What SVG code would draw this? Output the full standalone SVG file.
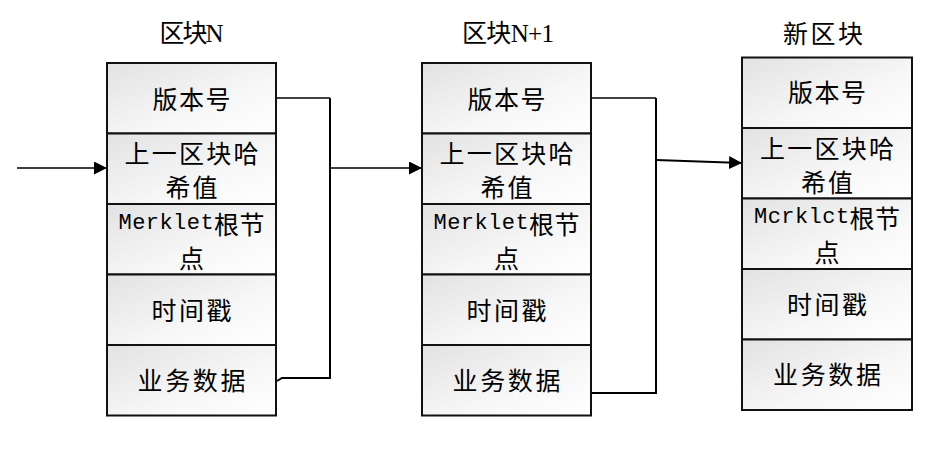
<svg xmlns="http://www.w3.org/2000/svg" width="930" height="457" viewBox="0 0 930 457">
  <defs>
    <linearGradient id="cellFill" x1="0" y1="0" x2="1" y2="1">
      <stop offset="0" stop-color="#e2e2e2"/>
      <stop offset="0.6" stop-color="#f7f7f7"/>
      <stop offset="1" stop-color="#ffffff"/>
    </linearGradient>
    <marker id="arrow" markerUnits="userSpaceOnUse" markerWidth="13" markerHeight="13" refX="13" refY="6.5" orient="auto">
      <path d="M0,0 L13,6.5 L0,13 z" fill="#000"/>
    </marker>
  </defs>
  <style>
    .cell { fill: url(#cellFill); stroke: #111; stroke-width: 2; }
    .lbl { font-family: "Noto Sans CJK SC", "Liberation Serif", sans-serif; font-size: 25px; fill: #000; text-anchor: middle; dominant-baseline: central; }
    .title { font-family: "Liberation Serif", "Noto Sans CJK SC", serif; font-size: 25px; fill: #000; text-anchor: middle; dominant-baseline: central; }
    .mono { font-family: "Liberation Mono", monospace; font-size: 22px; }
    .conn { fill: none; stroke: #000; stroke-width: 2; }
    .thin { fill: none; stroke: #000; stroke-width: 1.5; }
  </style>
  <rect width="930" height="457" fill="#fff"/>

  <g id="connectors">
    <path class="thin" d="M17,168 L107,168" marker-end="url(#arrow)"/>
    <path class="thin" d="M276,98 L330,98"/>
    <path class="conn" d="M330,98 L330,378 L282,378 L277,381"/>
    <path class="thin" d="M330,168 L422,168" marker-end="url(#arrow)"/>
    <path class="thin" d="M591,98 L656,98"/>
    <path class="conn" d="M656,98 L656,393 L591,393"/>
    <path class="conn" d="M656,160 L742,163" marker-end="url(#arrow)"/>
  </g>

  <g id="blockN">
    <text class="title" x="191.5" y="33" textLength="64">区块N</text>
    <rect class="cell" x="107" y="63" width="169" height="70.5"/>
    <rect class="cell" x="107" y="133.5" width="169" height="70.5"/>
    <rect class="cell" x="107" y="204" width="169" height="70.5"/>
    <rect class="cell" x="107" y="274.5" width="169" height="70.5"/>
    <rect class="cell" x="107" y="345" width="169" height="70.5"/>
    <text class="lbl" x="191.5" y="98" textLength="78">版本号</text>
    <text class="lbl" x="191.5" y="151.5" textLength="134">上一区块哈</text>
    <text class="lbl" x="191.5" y="185.5" textLength="52">希值</text>
    <text class="lbl" x="191.5" y="222.5" textLength="146"><tspan class="mono">Merklet</tspan>根节</text>
    <text class="lbl" x="191.5" y="256.5">点</text>
    <text class="lbl" x="191.5" y="309" textLength="80">时间戳</text>
    <text class="lbl" x="191.5" y="379" textLength="108">业务数据</text>
  </g>

  <g id="blockN1">
    <text class="title" x="508" y="33" textLength="92">区块N+1</text>
    <rect class="cell" x="422" y="63" width="169" height="70.5"/>
    <rect class="cell" x="422" y="133.5" width="169" height="70.5"/>
    <rect class="cell" x="422" y="204" width="169" height="70.5"/>
    <rect class="cell" x="422" y="274.5" width="169" height="70.5"/>
    <rect class="cell" x="422" y="345" width="169" height="70.5"/>
    <text class="lbl" x="506.5" y="98" textLength="78">版本号</text>
    <text class="lbl" x="506.5" y="151.5" textLength="134">上一区块哈</text>
    <text class="lbl" x="506.5" y="185.5" textLength="52">希值</text>
    <text class="lbl" x="506.5" y="222.5" textLength="146"><tspan class="mono">Merklet</tspan>根节</text>
    <text class="lbl" x="506.5" y="256.5">点</text>
    <text class="lbl" x="506.5" y="309" textLength="80">时间戳</text>
    <text class="lbl" x="506.5" y="379" textLength="108">业务数据</text>
  </g>

  <g id="newBlock">
    <text class="title" x="823" y="34" textLength="80">新区块</text>
    <rect class="cell" x="742" y="57.5" width="170" height="70.5"/>
    <rect class="cell" x="742" y="128" width="170" height="70.5"/>
    <rect class="cell" x="742" y="198.5" width="170" height="70.5"/>
    <rect class="cell" x="742" y="269" width="170" height="70.5"/>
    <rect class="cell" x="742" y="339.5" width="170" height="70.5"/>
    <text class="lbl" x="827" y="91" textLength="78">版本号</text>
    <text class="lbl" x="827" y="147" textLength="134">上一区块哈</text>
    <text class="lbl" x="827" y="181" textLength="52">希值</text>
    <text class="lbl" x="827" y="217" textLength="146"><tspan class="mono">Mcrklct</tspan>根节</text>
    <text class="lbl" x="827" y="251">点</text>
    <text class="lbl" x="827" y="303" textLength="80">时间戳</text>
    <text class="lbl" x="827" y="373" textLength="108">业务数据</text>
  </g>
</svg>
